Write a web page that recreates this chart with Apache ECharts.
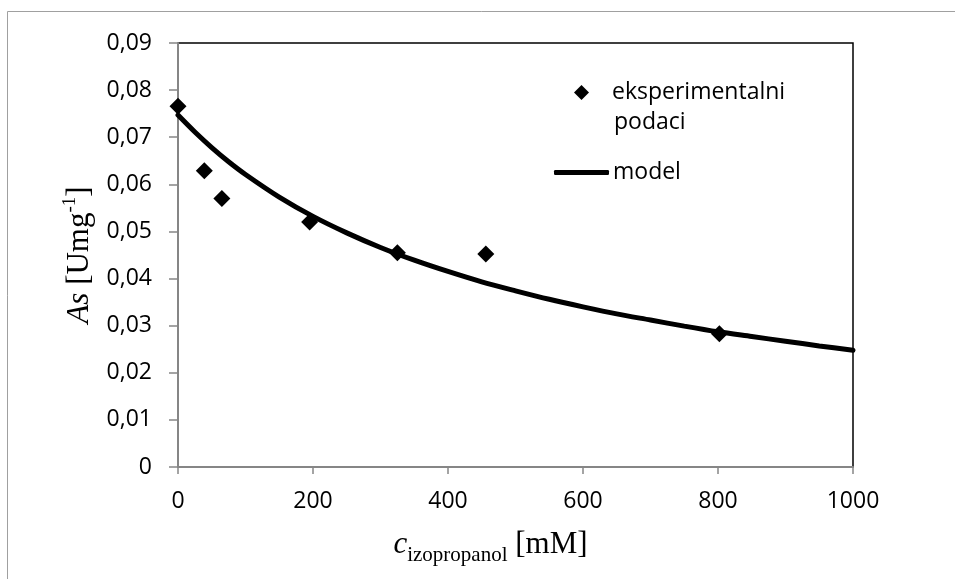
<!DOCTYPE html>
<html>
<head>
<meta charset="utf-8">
<script src="https://cdn.jsdelivr.net/npm/echarts@6/dist/echarts.min.js"></script>
<style>
html,body{margin:0;padding:0;background:#fff;}
#chart{width:955px;height:579px;}
</style>
</head>
<body>
<div id="chart"></div>
<script>
// Experimental data (c_izopropanol [mM], As [U/mg])
const expX = [0, 39, 65, 195, 325, 456, 802];
const expY = [0.0766, 0.0629, 0.0570, 0.0520, 0.0455, 0.0452, 0.0283];
// Model curve
const modelX = [0, 25, 50, 75, 100, 150, 200, 250, 300, 350, 400, 450, 500, 550, 600, 650, 700, 750, 800, 850, 900, 950, 1000];
const modelY = [0.0747, 0.0711, 0.0678, 0.0648, 0.0621, 0.0573, 0.0532, 0.0497, 0.0466, 0.0439, 0.0415, 0.0393, 0.0374, 0.0356, 0.0340, 0.0325, 0.0312, 0.0299, 0.0287, 0.0277, 0.0267, 0.0257, 0.0248];
const seriesNames = ['eksperimentalni podaci', 'model'];
const xTicks = { min: 0, max: 1000, interval: 200 };
const yTicks = { min: 0, max: 0.09, interval: 0.01 };

const chart = echarts.init(document.getElementById('chart'), null, { renderer: 'canvas' });
const sans = '"Open Sans", "DejaVu Sans", sans-serif';
const serif = '"Liberation Serif", "DejaVu Serif", serif';

const option = {
  backgroundColor: '#fff',
  animation: false,
  graphic: [
    { type: 'rect', z: -10, silent: true,
      shape: { x: 7.5, y: 11.5, width: 1000, height: 1000 },
      style: { fill: 'none', stroke: '#a0a0a0', lineWidth: 1 } },
    { type: 'text', left: 614, top: 111, z: 10,
      style: { text: 'podaci', font: '23px ' + sans, fill: '#000' } }
  ],
  grid: {
    left: 178, right: 102, top: 43, bottom: 112,
    show: true, borderColor: '#000', borderWidth: 1.5, backgroundColor: 'transparent'
  },
  legend: [
    {
      data: [seriesNames[0]], left: 574, top: 81, padding: 0,
      itemWidth: 15, itemHeight: 15,
      itemStyle: { opacity: 1 },
      formatter: () => 'eksperimentalni',
      textStyle: { fontFamily: sans, fontSize: 23, color: '#000', padding: [0, 0, 0, 18] }
    },
    {
      data: [{ name: seriesNames[1], icon: 'roundRect' }], left: 554, top: 161, padding: 0,
      itemWidth: 55, itemHeight: 5,
      textStyle: { fontFamily: sans, fontSize: 23, color: '#000', padding: [0, 0, 0, -1] }
    }
  ],
  xAxis: {
    type: 'value', min: xTicks.min, max: xTicks.max, interval: xTicks.interval,
    axisLine: { lineStyle: { color: '#868686', width: 2 } },
    axisTick: { show: true, inside: false, length: 7, lineStyle: { color: '#868686', width: 1.5 } },
    axisLabel: { fontFamily: sans, fontSize: 23, color: '#000', margin: 23, formatter: v => String(v) },
    splitLine: { show: false },
    name: '{i|c}{sub|izopropanol} [mM]',
    nameLocation: 'middle', nameGap: 62,
    nameTextStyle: {
      fontFamily: serif, fontSize: 31, color: '#000', padding: [0, 50, 0, 0],
      rich: {
        i: { fontFamily: serif, fontSize: 31, fontStyle: 'italic', color: '#000' },
        sub: { fontFamily: serif, fontSize: 21, color: '#000', verticalAlign: 'bottom', padding: [0, 0, -6, 0] }
      }
    }
  },
  yAxis: {
    type: 'value', min: yTicks.min, max: yTicks.max, interval: yTicks.interval,
    axisLine: { show: true, lineStyle: { color: '#868686', width: 2 } },
    axisTick: { show: true, inside: false, length: 9, lineStyle: { color: '#868686', width: 1.5 } },
    axisLabel: {
      fontFamily: sans, fontSize: 23, color: '#000', margin: 26,
      formatter: v => v === 0 ? '0' : v.toFixed(2).replace('.', ',')
    },
    splitLine: { show: false },
    name: '{i|As} [Umg{sup|-1}]',
    nameLocation: 'middle', nameGap: 82,
    nameTextStyle: {
      fontFamily: serif, fontSize: 31, color: '#000',
      rich: {
        i: { fontFamily: serif, fontSize: 31, fontStyle: 'italic', color: '#000' },
        sup: { fontFamily: serif, fontSize: 19, color: '#000', verticalAlign: 'top', padding: [-4, 0, 0, 0] }
      }
    }
  },
  series: [
    {
      name: seriesNames[0], type: 'scatter', symbol: 'diamond', symbolSize: 17,
      itemStyle: { color: '#000', opacity: 1 }, z: 3,
      data: expX.map((x, i) => [x, expY[i]])
    },
    {
      name: seriesNames[1], type: 'line', showSymbol: false, symbol: 'none', smooth: 0.3,
      lineStyle: { color: '#000', width: 5, cap: 'round' }, itemStyle: { color: '#000' }, z: 2,
      data: modelX.map((x, i) => [x, modelY[i]])
    }
  ]
};
chart.setOption(option);
</script>
</body>
</html>
